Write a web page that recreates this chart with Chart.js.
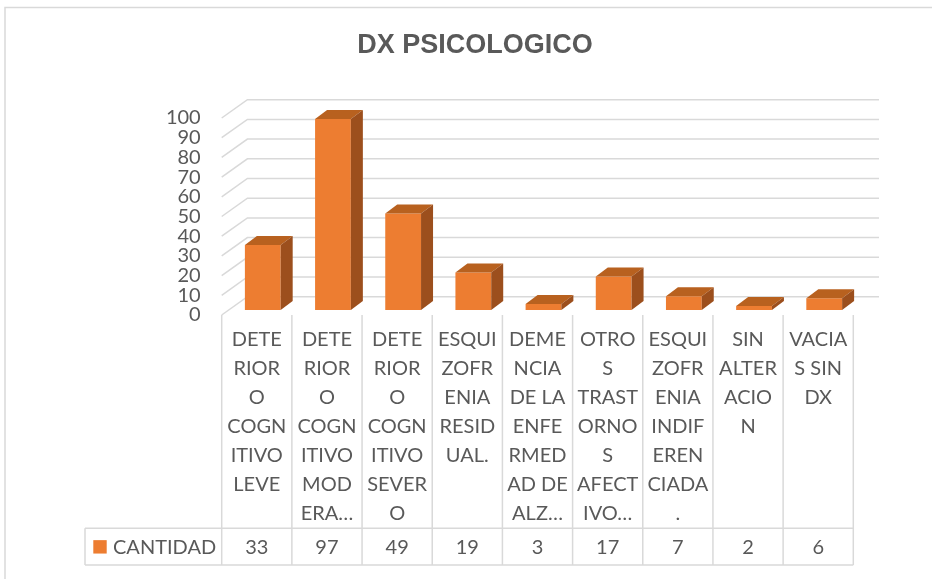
<!DOCTYPE html>
<html>
<head>
<meta charset="utf-8">
<script src="https://cdn.jsdelivr.net/npm/chart.js@4"></script>
<style>
  html, body { margin: 0; padding: 0; background: #ffffff; }
  #c { display: block; }
</style>
</head>
<body>
<canvas id="c" width="932" height="579"></canvas>
<script>
const TITLE = "DX PSICOLOGICO";
const SERIES_NAME = "CANTIDAD";
const CATEGORIES = [
  ["DETE","RIOR","O","COGN","ITIVO","LEVE"],
  ["DETE","RIOR","O","COGN","ITIVO","MOD","ERA…"],
  ["DETE","RIOR","O","COGN","ITIVO","SEVER","O"],
  ["ESQUI","ZOFR","ENIA","RESID","UAL."],
  ["DEME","NCIA","DE LA","ENFE","RMED","AD DE","ALZ…"],
  ["OTRO","S","TRAST","ORNO","S","AFECT","IVO…"],
  ["ESQUI","ZOFR","ENIA","INDIF","EREN","CIADA","."],
  ["SIN","ALTER","ACIO","N"],
  ["VACIA","S SIN","DX"]
];
const VALUES = [33, 97, 49, 19, 3, 17, 7, 2, 6];
const Y_MIN = 0, Y_MAX = 100, Y_STEP = 10;

const TEXT = "#595959";
const GRID = "#D9D9D9";
const FRONT = "#ED7D31";
const SIDE = "#9C4F1D";
const TOP = "#B8611F";
const FONT = "Lato";

// 3D geometry
const WALL_DX = 25.7, WALL_DY = -18.3;
const BAR_SHIFT_X = 6, BAR_SHIFT_Y = -5;
const BAR_DX = 12, BAR_DY = -9;

const threeD = {
  id: "threeD",
  beforeDraw(chart) {
    const ctx = chart.ctx;
    ctx.save();
    ctx.fillStyle = "#ffffff";
    ctx.fillRect(0, 0, chart.width, chart.height);
    ctx.strokeStyle = GRID;
    ctx.lineWidth = 1.5;
    ctx.strokeRect(5, 7.5, 940, 620);
    ctx.fillStyle = TEXT;
    ctx.font = "bold 27px 'Liberation Sans'";
    ctx.textAlign = "center";
    ctx.textBaseline = "middle";
    ctx.fillText(TITLE, 475, 46);
    ctx.restore();
  },
  beforeDatasetsDraw(chart) {
    const ctx = chart.ctx;
    const ys = chart.scales.y;
    const a = chart.chartArea;
    ctx.save();
    ctx.strokeStyle = GRID;
    ctx.lineWidth = 1.5;
    for (let v = Y_MIN; v <= Y_MAX; v += Y_STEP) {
      const py = ys.getPixelForValue(v);
      ctx.beginPath();
      ctx.moveTo(a.left, py);
      ctx.lineTo(a.left + WALL_DX, py + WALL_DY);
      ctx.lineTo(a.right + WALL_DX, py + WALL_DY);
      ctx.stroke();
    }
    ctx.restore();
    ctx.save();
    ctx.translate(BAR_SHIFT_X, BAR_SHIFT_Y);
  },
  afterDatasetsDraw(chart) {
    const ctx = chart.ctx;
    const meta = chart.getDatasetMeta(0);
    meta.data.forEach((bar) => {
      const p = bar.getProps(["x", "y", "base", "width"], true);
      const x0 = p.x - p.width / 2, x1 = p.x + p.width / 2;
      const top = p.y, base = p.base;
      ctx.fillStyle = TOP;
      ctx.beginPath();
      ctx.moveTo(x0, top);
      ctx.lineTo(x1, top);
      ctx.lineTo(x1 + BAR_DX, top + BAR_DY);
      ctx.lineTo(x0 + BAR_DX, top + BAR_DY);
      ctx.closePath();
      ctx.fill();
      ctx.fillStyle = SIDE;
      ctx.beginPath();
      ctx.moveTo(x1, top);
      ctx.lineTo(x1 + BAR_DX, top + BAR_DY);
      ctx.lineTo(x1 + BAR_DX, base + BAR_DY);
      ctx.lineTo(x1, base);
      ctx.closePath();
      ctx.fill();
    });
    ctx.restore();
  },
  afterDraw(chart) {
    const ctx = chart.ctx;
    const xs = chart.scales.x;
    const a = chart.chartArea;
    const band = (a.right - a.left) / VALUES.length;
    const rowTop = 528.3, rowBottom = 565;
    const tableLeft = 85;
    ctx.save();
    ctx.strokeStyle = GRID;
    ctx.lineWidth = 1.5;
    for (let i = 0; i <= VALUES.length; i++) {
      const bx = (i < VALUES.length ? xs.getPixelForValue(i) - band / 2 : xs.getPixelForValue(i - 1) + band / 2);
      ctx.beginPath();
      ctx.moveTo(bx, a.bottom);
      ctx.lineTo(bx, rowBottom);
      ctx.stroke();
    }
    ctx.beginPath();
    ctx.moveTo(tableLeft, rowTop);
    ctx.lineTo(a.right, rowTop);
    ctx.moveTo(tableLeft, rowBottom);
    ctx.lineTo(a.right, rowBottom);
    ctx.moveTo(tableLeft, rowTop);
    ctx.lineTo(tableLeft, rowBottom);
    ctx.stroke();
    const midY = (rowTop + rowBottom) / 2 + 0.5;
    ctx.fillStyle = FRONT;
    ctx.fillRect(93.3, midY - 7, 13.4, 13.4);
    ctx.fillStyle = TEXT;
    ctx.font = "20px " + FONT;
    ctx.textBaseline = "middle";
    ctx.textAlign = "left";
    ctx.fillText(SERIES_NAME, 113, midY);
    ctx.textAlign = "center";
    VALUES.forEach((v, i) => {
      ctx.fillText(String(v), xs.getPixelForValue(i), midY);
    });
    ctx.restore();
  }
};

new Chart(document.getElementById("c"), {
  type: "bar",
  data: {
    labels: CATEGORIES,
    datasets: [{
      label: SERIES_NAME,
      data: VALUES,
      backgroundColor: FRONT,
      borderWidth: 0,
      categoryPercentage: 1,
      barPercentage: 0.51,
      clip: false
    }]
  },
  options: {
    responsive: false,
    animation: false,
    devicePixelRatio: 1,
    layout: { padding: { left: 0, right: 78.7, top: 118, bottom: 0 } },
    plugins: {
      legend: { display: false },
      title: { display: false },
      tooltip: { enabled: false }
    },
    scales: {
      x: {
        type: "category",
        offset: true,
        grid: { display: false, drawTicks: false },
        border: { display: false },
        ticks: {
          autoSkip: false,
          maxRotation: 0,
          minRotation: 0,
          padding: 10,
          color: TEXT,
          font: { family: FONT, size: 20, lineHeight: 1.45 }
        },
        afterFit(scale) { scale.height = 264; }
      },
      y: {
        min: Y_MIN,
        max: Y_MAX,
        grid: { display: false, drawTicks: false },
        border: { display: false },
        ticks: {
          stepSize: Y_STEP,
          autoSkip: false,
          padding: 21,
          color: TEXT,
          font: { family: FONT, size: 20, lineHeight: 1.0 }
        },
        afterFit(scale) { scale.width = 221.7; }
      }
    }
  },
  plugins: [threeD]
});
</script>
</body>
</html>
